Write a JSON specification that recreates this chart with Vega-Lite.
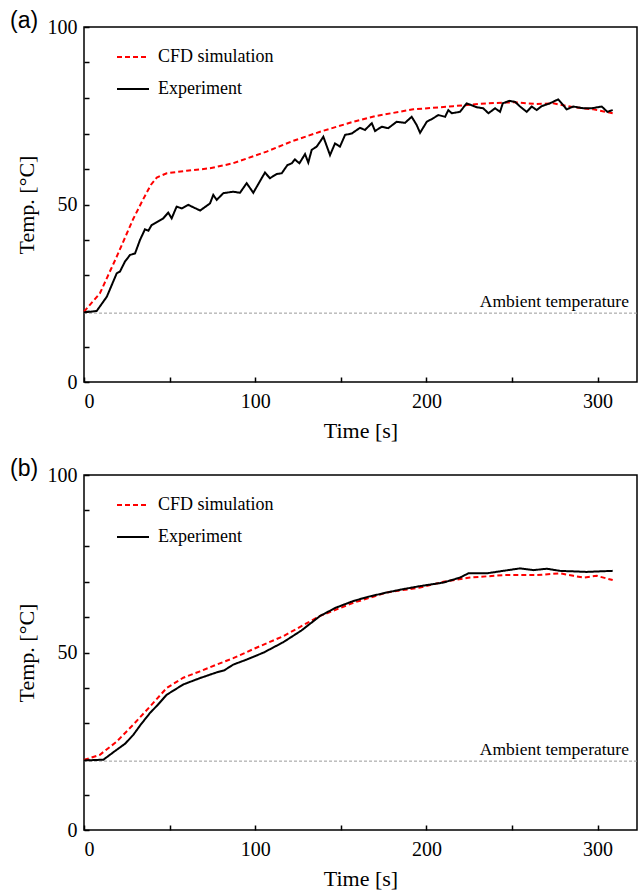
{
  "$schema": "https://vega.github.io/schema/vega-lite/v6.json",
  "padding": {"left": 9, "top": 9, "right": 2, "bottom": 5},
  "background": "white",
  "config": {
    "view": {"stroke": "black", "strokeWidth": 1.5},
    "axis": {
      "grid": false, "domain": false, "ticks": true, "tickColor": "black", "tickWidth": 1.5, "offset": -5,
      "tickSize": 5, "labelOverlap": false, "labelFont": "Liberation Serif", "labelFontSize": 20, "labelColor": "black",
      "titleFont": "Liberation Serif", "titleFontSize": 22, "titleFontWeight": "normal", "titleColor": "black"
    },
    "legend": {"labelFont": "Liberation Serif", "labelFontSize": 18, "labelColor": "black"},
    "title": {"font": "Liberation Sans", "fontSize": 23, "fontWeight": "normal", "anchor": "start", "frame": "bounds", "color": "black", "offset": -16, "dx": -5},
    "concat": {"spacing": 15}
  },
  "datasets": {
    "a": [
      {"t": 0, "T": 19.8, "series": "CFD simulation"},
      {"t": 9.3, "T": 25, "series": "CFD simulation"},
      {"t": 19.1, "T": 35.3, "series": "CFD simulation"},
      {"t": 28.8, "T": 46.0, "series": "CFD simulation"},
      {"t": 34.6, "T": 51.5, "series": "CFD simulation"},
      {"t": 39, "T": 55.5, "series": "CFD simulation"},
      {"t": 42.5, "T": 57.6, "series": "CFD simulation"},
      {"t": 48.3, "T": 58.8, "series": "CFD simulation"},
      {"t": 60, "T": 59.5, "series": "CFD simulation"},
      {"t": 73.6, "T": 60.2, "series": "CFD simulation"},
      {"t": 87, "T": 61.6, "series": "CFD simulation"},
      {"t": 106.7, "T": 64.9, "series": "CFD simulation"},
      {"t": 122, "T": 67.9, "series": "CFD simulation"},
      {"t": 137.9, "T": 70.5, "series": "CFD simulation"},
      {"t": 157.3, "T": 73.3, "series": "CFD simulation"},
      {"t": 170, "T": 74.9, "series": "CFD simulation"},
      {"t": 192.3, "T": 76.8, "series": "CFD simulation"},
      {"t": 215.7, "T": 77.7, "series": "CFD simulation"},
      {"t": 235.2, "T": 78.5, "series": "CFD simulation"},
      {"t": 250.8, "T": 78.8, "series": "CFD simulation"},
      {"t": 264.4, "T": 78.3, "series": "CFD simulation"},
      {"t": 274.1, "T": 78.5, "series": "CFD simulation"},
      {"t": 285.8, "T": 77.4, "series": "CFD simulation"},
      {"t": 297.5, "T": 76.8, "series": "CFD simulation"},
      {"t": 308.8, "T": 75.7, "series": "CFD simulation"},
      {"t": 0, "T": 19.6, "series": "Experiment"},
      {"t": 7.4, "T": 20, "series": "Experiment"},
      {"t": 13.3, "T": 24, "series": "Experiment"},
      {"t": 19.1, "T": 30.6, "series": "Experiment"},
      {"t": 21, "T": 31.1, "series": "Experiment"},
      {"t": 23.9, "T": 33.9, "series": "Experiment"},
      {"t": 26.9, "T": 35.8, "series": "Experiment"},
      {"t": 29.8, "T": 36.2, "series": "Experiment"},
      {"t": 32.7, "T": 40, "series": "Experiment"},
      {"t": 35.6, "T": 43, "series": "Experiment"},
      {"t": 37.6, "T": 42.6, "series": "Experiment"},
      {"t": 39.5, "T": 44.2, "series": "Experiment"},
      {"t": 46.3, "T": 46.1, "series": "Experiment"},
      {"t": 49.2, "T": 47.7, "series": "Experiment"},
      {"t": 51.2, "T": 46.1, "series": "Experiment"},
      {"t": 54.1, "T": 49.4, "series": "Experiment"},
      {"t": 57.1, "T": 48.9, "series": "Experiment"},
      {"t": 60.9, "T": 49.9, "series": "Experiment"},
      {"t": 67.8, "T": 48.3, "series": "Experiment"},
      {"t": 73.6, "T": 50.3, "series": "Experiment"},
      {"t": 75.5, "T": 52.7, "series": "Experiment"},
      {"t": 77.5, "T": 51.3, "series": "Experiment"},
      {"t": 81.4, "T": 53.2, "series": "Experiment"},
      {"t": 87.2, "T": 53.6, "series": "Experiment"},
      {"t": 91.1, "T": 53.3, "series": "Experiment"},
      {"t": 95, "T": 56, "series": "Experiment"},
      {"t": 98.9, "T": 53.3, "series": "Experiment"},
      {"t": 100.9, "T": 55, "series": "Experiment"},
      {"t": 105.7, "T": 59, "series": "Experiment"},
      {"t": 108.6, "T": 57.4, "series": "Experiment"},
      {"t": 112.6, "T": 58.6, "series": "Experiment"},
      {"t": 115.5, "T": 58.8, "series": "Experiment"},
      {"t": 118.8, "T": 61.1, "series": "Experiment"},
      {"t": 121.3, "T": 61.6, "series": "Experiment"},
      {"t": 123.2, "T": 62.7, "series": "Experiment"},
      {"t": 125.8, "T": 61.6, "series": "Experiment"},
      {"t": 129.1, "T": 64.2, "series": "Experiment"},
      {"t": 131, "T": 61.8, "series": "Experiment"},
      {"t": 133, "T": 65.4, "series": "Experiment"},
      {"t": 135.9, "T": 66.3, "series": "Experiment"},
      {"t": 137.9, "T": 67.7, "series": "Experiment"},
      {"t": 139.8, "T": 69.1, "series": "Experiment"},
      {"t": 143.7, "T": 63.9, "series": "Experiment"},
      {"t": 146.6, "T": 67.2, "series": "Experiment"},
      {"t": 149.5, "T": 66.3, "series": "Experiment"},
      {"t": 152.5, "T": 69.6, "series": "Experiment"},
      {"t": 156.4, "T": 70, "series": "Experiment"},
      {"t": 161.2, "T": 71.6, "series": "Experiment"},
      {"t": 164.1, "T": 71, "series": "Experiment"},
      {"t": 168.1, "T": 72.9, "series": "Experiment"},
      {"t": 170, "T": 70.7, "series": "Experiment"},
      {"t": 173.9, "T": 71.9, "series": "Experiment"},
      {"t": 177.7, "T": 71.5, "series": "Experiment"},
      {"t": 182.6, "T": 73.3, "series": "Experiment"},
      {"t": 187.5, "T": 73, "series": "Experiment"},
      {"t": 191.4, "T": 74.7, "series": "Experiment"},
      {"t": 194.3, "T": 72.4, "series": "Experiment"},
      {"t": 196.3, "T": 70.2, "series": "Experiment"},
      {"t": 200.2, "T": 73.3, "series": "Experiment"},
      {"t": 204, "T": 74.3, "series": "Experiment"},
      {"t": 207, "T": 75.2, "series": "Experiment"},
      {"t": 210.9, "T": 74.7, "series": "Experiment"},
      {"t": 212.8, "T": 76.6, "series": "Experiment"},
      {"t": 214.8, "T": 75.7, "series": "Experiment"},
      {"t": 219.6, "T": 76.1, "series": "Experiment"},
      {"t": 223.5, "T": 78.5, "series": "Experiment"},
      {"t": 229.4, "T": 77.4, "series": "Experiment"},
      {"t": 233.2, "T": 77.1, "series": "Experiment"},
      {"t": 236.2, "T": 75.7, "series": "Experiment"},
      {"t": 240.1, "T": 77.1, "series": "Experiment"},
      {"t": 243, "T": 76.1, "series": "Experiment"},
      {"t": 244.6, "T": 78.5, "series": "Experiment"},
      {"t": 248.4, "T": 79.2, "series": "Experiment"},
      {"t": 251.8, "T": 78.9, "series": "Experiment"},
      {"t": 254.7, "T": 77.6, "series": "Experiment"},
      {"t": 258.6, "T": 76.1, "series": "Experiment"},
      {"t": 261.5, "T": 77.6, "series": "Experiment"},
      {"t": 264.4, "T": 76.6, "series": "Experiment"},
      {"t": 267.3, "T": 77.7, "series": "Experiment"},
      {"t": 272.2, "T": 78.5, "series": "Experiment"},
      {"t": 275.1, "T": 79.2, "series": "Experiment"},
      {"t": 277, "T": 79.6, "series": "Experiment"},
      {"t": 279, "T": 78.5, "series": "Experiment"},
      {"t": 281.9, "T": 76.8, "series": "Experiment"},
      {"t": 285.8, "T": 77.6, "series": "Experiment"},
      {"t": 291.6, "T": 77.1, "series": "Experiment"},
      {"t": 296.5, "T": 77.1, "series": "Experiment"},
      {"t": 302.4, "T": 77.6, "series": "Experiment"},
      {"t": 305.7, "T": 76.1, "series": "Experiment"},
      {"t": 308.8, "T": 76.6, "series": "Experiment"}
    ],
    "b": [
      {"t": 0, "T": 19.7, "series": "CFD simulation"},
      {"t": 9.3, "T": 21.2, "series": "CFD simulation"},
      {"t": 19.1, "T": 24.9, "series": "CFD simulation"},
      {"t": 28.8, "T": 29.7, "series": "CFD simulation"},
      {"t": 38.6, "T": 34.8, "series": "CFD simulation"},
      {"t": 48.3, "T": 40, "series": "CFD simulation"},
      {"t": 58, "T": 42.9, "series": "CFD simulation"},
      {"t": 67.8, "T": 44.7, "series": "CFD simulation"},
      {"t": 77.5, "T": 46.6, "series": "CFD simulation"},
      {"t": 87.2, "T": 48.4, "series": "CFD simulation"},
      {"t": 100, "T": 51.2, "series": "CFD simulation"},
      {"t": 116.4, "T": 54.6, "series": "CFD simulation"},
      {"t": 137.9, "T": 60.3, "series": "CFD simulation"},
      {"t": 157.3, "T": 64, "series": "CFD simulation"},
      {"t": 176.8, "T": 66.9, "series": "CFD simulation"},
      {"t": 196.3, "T": 68.3, "series": "CFD simulation"},
      {"t": 209.9, "T": 69.9, "series": "CFD simulation"},
      {"t": 225.5, "T": 71.1, "series": "CFD simulation"},
      {"t": 244.9, "T": 71.8, "series": "CFD simulation"},
      {"t": 264.4, "T": 71.8, "series": "CFD simulation"},
      {"t": 278, "T": 72.3, "series": "CFD simulation"},
      {"t": 285.8, "T": 71.6, "series": "CFD simulation"},
      {"t": 291.6, "T": 71.1, "series": "CFD simulation"},
      {"t": 299.5, "T": 71.6, "series": "CFD simulation"},
      {"t": 308.8, "T": 70.4, "series": "CFD simulation"},
      {"t": 0, "T": 19.6, "series": "Experiment"},
      {"t": 11.3, "T": 19.8, "series": "Experiment"},
      {"t": 19.1, "T": 22.6, "series": "Experiment"},
      {"t": 24, "T": 24.3, "series": "Experiment"},
      {"t": 28.8, "T": 26.8, "series": "Experiment"},
      {"t": 33, "T": 29.6, "series": "Experiment"},
      {"t": 38.6, "T": 33, "series": "Experiment"},
      {"t": 43, "T": 35.2, "series": "Experiment"},
      {"t": 48.3, "T": 38.1, "series": "Experiment"},
      {"t": 58, "T": 41, "series": "Experiment"},
      {"t": 67.8, "T": 42.8, "series": "Experiment"},
      {"t": 77.5, "T": 44.4, "series": "Experiment"},
      {"t": 82, "T": 45.0, "series": "Experiment"},
      {"t": 87.2, "T": 46.6, "series": "Experiment"},
      {"t": 95, "T": 48.0, "series": "Experiment"},
      {"t": 105, "T": 50.0, "series": "Experiment"},
      {"t": 116.4, "T": 52.9, "series": "Experiment"},
      {"t": 127, "T": 56.2, "series": "Experiment"},
      {"t": 137.9, "T": 60.3, "series": "Experiment"},
      {"t": 147, "T": 62.6, "series": "Experiment"},
      {"t": 157.3, "T": 64.5, "series": "Experiment"},
      {"t": 166, "T": 65.7, "series": "Experiment"},
      {"t": 176.8, "T": 66.9, "series": "Experiment"},
      {"t": 186, "T": 67.8, "series": "Experiment"},
      {"t": 196.3, "T": 68.7, "series": "Experiment"},
      {"t": 209.9, "T": 69.7, "series": "Experiment"},
      {"t": 219.6, "T": 71.1, "series": "Experiment"},
      {"t": 224.5, "T": 72.3, "series": "Experiment"},
      {"t": 235.2, "T": 72.3, "series": "Experiment"},
      {"t": 244.9, "T": 73, "series": "Experiment"},
      {"t": 254.7, "T": 73.7, "series": "Experiment"},
      {"t": 262.5, "T": 73.2, "series": "Experiment"},
      {"t": 270.3, "T": 73.6, "series": "Experiment"},
      {"t": 278, "T": 73, "series": "Experiment"},
      {"t": 293.6, "T": 72.7, "series": "Experiment"},
      {"t": 308.8, "T": 73, "series": "Experiment"}
    ],
    "ambient": [{"t": 318.3, "T": 19.4, "label": "Ambient temperature"}]
  },
  "vconcat": [
    {
      "title": {"text": "(a)"},
      "width": 553, "height": 355,
      "resolve": {"axis": {"x": "independent", "y": "independent"}},
      "layer": [
        {
          "data": {"name": "ambient"},
          "mark": {"type": "rule", "color": "#999999", "strokeWidth": 1, "strokeDash": [3, 2]},
          "encoding": {"y": {"field": "T", "type": "quantitative", "axis": null}}
        },
        {
          "data": {"name": "ambient"},
          "mark": {"type": "text", "align": "right", "baseline": "bottom", "dy": -2, "font": "Liberation Serif", "fontSize": 17.5, "color": "black"},
          "encoding": {
            "x": {"field": "t", "type": "quantitative", "axis": null},
            "y": {"field": "T", "type": "quantitative", "axis": null},
            "text": {"field": "label"}
          }
        },
        {
          "data": {"name": "a"},
          "mark": {"type": "line", "strokeWidth": 2},
          "encoding": {
            "x": {"field": "t", "type": "quantitative", "title": "Time [s]", "scale": {"domain": [0, 323], "nice": false},
                  "axis": {"orient": "bottom", "values": [0, 50, 100, 150, 200, 250, 300], "labelOverlap": false, "labelExpr": "datum.value % 100 == 0 ? datum.label : ''", "labelPadding": 9, "titlePadding": 9}},
            "y": {"field": "T", "type": "quantitative", "title": "Temp. [°C]", "scale": {"domain": [0, 100], "nice": false},
                  "axis": {"orient": "left", "values": [0, 10, 20, 30, 40, 50, 60, 70, 80, 90, 100], "labelOverlap": false, "labelExpr": "datum.value % 50 == 0 ? datum.label : ''", "labelPadding": 7, "titlePadding": 9}},
            "color": {"field": "series", "type": "nominal", "scale": {"domain": ["CFD simulation", "Experiment"], "range": ["#ff0000", "#000000"]},
                      "legend": {"title": null, "orient": "none", "legendX": 32, "legendY": 13, "symbolType": "stroke", "symbolSize": 1024, "symbolStrokeWidth": 2, "labelOffset": 8, "rowPadding": 6}},
            "strokeDash": {"field": "series", "type": "nominal", "scale": {"domain": ["CFD simulation", "Experiment"], "range": [[5, 3], [1, 0]]}, "legend": {"title": null, "orient": "none", "legendX": 32, "legendY": 13, "symbolType": "stroke", "symbolSize": 1024, "symbolStrokeWidth": 2, "labelOffset": 8, "rowPadding": 6}},
            "order": {"field": "t", "type": "quantitative"}
          }
        }
      ]
    },
    {
      "title": {"text": "(b)"},
      "width": 553, "height": 355,
      "resolve": {"axis": {"x": "independent", "y": "independent"}},
      "layer": [
        {
          "data": {"name": "ambient"},
          "mark": {"type": "rule", "color": "#999999", "strokeWidth": 1, "strokeDash": [3, 2]},
          "encoding": {"y": {"field": "T", "type": "quantitative", "axis": null}}
        },
        {
          "data": {"name": "ambient"},
          "mark": {"type": "text", "align": "right", "baseline": "bottom", "dy": -2, "font": "Liberation Serif", "fontSize": 17.5, "color": "black"},
          "encoding": {
            "x": {"field": "t", "type": "quantitative", "axis": null},
            "y": {"field": "T", "type": "quantitative", "axis": null},
            "text": {"field": "label"}
          }
        },
        {
          "data": {"name": "b"},
          "mark": {"type": "line", "strokeWidth": 2},
          "encoding": {
            "x": {"field": "t", "type": "quantitative", "title": "Time [s]", "scale": {"domain": [0, 323], "nice": false},
                  "axis": {"orient": "bottom", "values": [0, 50, 100, 150, 200, 250, 300], "labelOverlap": false, "labelExpr": "datum.value % 100 == 0 ? datum.label : ''", "labelPadding": 9, "titlePadding": 9}},
            "y": {"field": "T", "type": "quantitative", "title": "Temp. [°C]", "scale": {"domain": [0, 100], "nice": false},
                  "axis": {"orient": "left", "values": [0, 10, 20, 30, 40, 50, 60, 70, 80, 90, 100], "labelOverlap": false, "labelExpr": "datum.value % 50 == 0 ? datum.label : ''", "labelPadding": 7, "titlePadding": 9}},
            "color": {"field": "series", "type": "nominal", "scale": {"domain": ["CFD simulation", "Experiment"], "range": ["#ff0000", "#000000"]},
                      "legend": {"title": null, "orient": "none", "legendX": 32, "legendY": 13, "symbolType": "stroke", "symbolSize": 1024, "symbolStrokeWidth": 2, "labelOffset": 8, "rowPadding": 6}},
            "strokeDash": {"field": "series", "type": "nominal", "scale": {"domain": ["CFD simulation", "Experiment"], "range": [[5, 3], [1, 0]]}, "legend": {"title": null, "orient": "none", "legendX": 32, "legendY": 13, "symbolType": "stroke", "symbolSize": 1024, "symbolStrokeWidth": 2, "labelOffset": 8, "rowPadding": 6}},
            "order": {"field": "t", "type": "quantitative"}
          }
        }
      ]
    }
  ],
  "resolve": {"scale": {"color": "independent", "strokeDash": "independent"}}
}
